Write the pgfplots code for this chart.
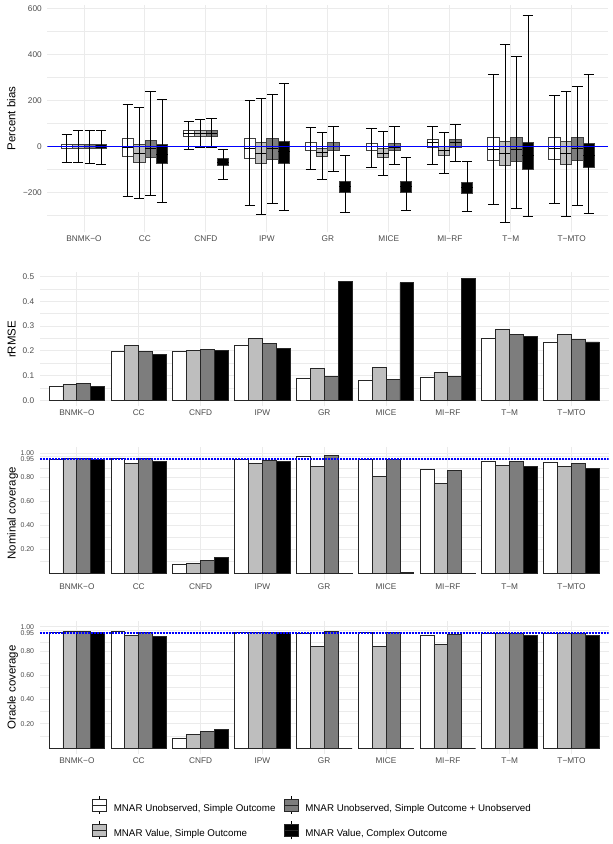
\documentclass[border=0pt]{standalone}
\usepackage{pgfplots}
\pgfplotsset{compat=1.18}
\usepgfplotslibrary{statistics}
\usepackage{fontspec}
\setmainfont{Liberation Sans}

\definecolor{fL}{gray}{0.745}
\definecolor{fD}{gray}{0.49}
\definecolor{gridc}{gray}{0.92}
\definecolor{tickc}{gray}{0.30}

% one box: style, position, lower whisker, lower quartile, median, upper quartile, upper whisker
\newcommand{\bx}[7]{\addplot[#1, boxplot prepared={draw position=#2, lower whisker=#3,
  lower quartile=#4, median=#5, upper quartile=#6, upper whisker=#7}] coordinates {};}

% legend glyph
\newcommand{\bxkey}[1]{%
  \draw[line width=0.8bp, black] (7bp,-5.5bp) -- (7bp,12.5bp);
  \draw[fill=#1, draw=black!85, line width=0.8bp] (0bp,-2.5bp) rectangle (14bp,9.5bp);
  \draw[line width=0.8bp, black!85] (0bp,3.5bp) -- (14bp,3.5bp);}

\pgfplotsset{
  panel/.style={
    scale only axis, anchor=south west,
    xmin=0.4, xmax=9.6, xtick={1,...,9},
    xticklabels={BNMK−O,CC,CNFD,IPW,GR,MICE,MI−RF,T−M,T−MTO},
    axis line style={draw=none}, tick style={draw=none},
    xmajorgrids, ymajorgrids, yminorgrids,
    major grid style={draw=gridc, line width=0.9bp},
    minor grid style={draw=gridc, line width=0.45bp},
    ticklabel style={font=\fontsize{8.3}{9}\selectfont, text=tickc},
    xticklabel style={anchor=north, inner sep=0pt, yshift=-3.5bp},
    yticklabel style={anchor=east, inner sep=0pt, xshift=-5.5bp},
    label style={font=\fontsize{11.5}{13}\selectfont},
  },
  lower/.style={panel, width=568.8bp,
    ylabel style={at={(axis description cs:-0.0427,0.5)}, anchor=base}},
  cover/.style={lower,
    ymin=-0.05, ymax=1.05, ytick={0.2,0.4,0.6,0.8,0.95,1},
    yticklabels={0.20,0.40,0.60,0.80,0.95,1.00},
    minor ytick={0.1,0.3,0.5,0.7,0.875,0.975},
    yticklabel style={font=\fontsize{7}{7.5}\selectfont}},
  bxbase/.style={draw=black, line width=0.8bp,
    boxplot/box extend=0.1875, boxplot/whisker extend=0.17},
  bxW/.style={bxbase, boxplot/every box/.style={fill=white, draw=black!75}},
  bxL/.style={bxbase, boxplot/every box/.style={fill=fL, draw=black!75}},
  bxD/.style={bxbase, boxplot/every box/.style={fill=fD, draw=black!75}},
  bxK/.style={bxbase, boxplot/every box/.style={fill=black, draw=black!75}},
  brbase/.style={ybar, bar width=0.225, draw=black!85, line width=0.8bp},
  brW/.style={brbase, fill=white, bar shift=-0.3375},
  brL/.style={brbase, fill=fL, bar shift=-0.1125},
  brD/.style={brbase, fill=fD, bar shift=0.1125},
  brK/.style={brbase, fill=black, bar shift=0.3375},
  refline/.style={blue, line width=1.8bp, dash pattern=on 2bp off 1bp},
}

\begin{document}
\begin{tikzpicture}
\useasboundingbox (0,0) rectangle (613bp,844bp);

% ---- Percent bias
\begin{axis}[panel, width=560.9bp, at={(47.4bp,611.7bp)}, height=227.2bp,
  ylabel style={at={(axis description cs:-0.0569,0.5)}, anchor=base},
  ymin=-374, ymax=614, ytick={-200,0,200,400,600},
  yticklabels={−200,0,200,400,600}, minor ytick={-300,-100,100,300,500},
  ylabel={Percent bias},
  boxplot/draw direction=y,
  boxplot/draw/lower whisker/.code={},
  boxplot/draw/upper whisker/.code={},
  boxplot/draw/median/.code={%
    \draw[black, line width=0.8bp]
      (boxplot box cs:\pgfplotsboxplotvalue{median},0) --
      (boxplot box cs:\pgfplotsboxplotvalue{median},1);
    \draw[black, line width=0.8bp]
      (boxplot cs:\pgfplotsboxplotvalue{lower whisker}) --
      (boxplot cs:\pgfplotsboxplotvalue{upper whisker})
      (boxplot whisker cs:\pgfplotsboxplotvalue{lower whisker},0) --
      (boxplot whisker cs:\pgfplotsboxplotvalue{lower whisker},1)
      (boxplot whisker cs:\pgfplotsboxplotvalue{upper whisker},0) --
      (boxplot whisker cs:\pgfplotsboxplotvalue{upper whisker},1);
  },
]
% BNMK-O
\bx{bxW}{0.71875}{-72}{-10}{0}{10}{51}
\bx{bxL}{0.90625}{-70}{-8}{1}{10}{70}
\bx{bxD}{1.09375}{-75}{-9}{0}{10}{71}
\bx{bxK}{1.28125}{-77}{-10}{0}{10}{67}
% CC
\bx{bxW}{1.71875}{-220}{-46}{-6}{33}{180}
\bx{bxL}{1.90625}{-226}{-71}{-32}{9}{171}
\bx{bxD}{2.09375}{-212}{-49}{-10}{27}{240}
\bx{bxK}{2.28125}{-243}{-74}{-35}{10}{206}
% CNFD
\bx{bxW}{2.71875}{-14}{45}{58}{71}{110}
\bx{bxL}{2.90625}{-7}{45}{58}{71}{119}
\bx{bxD}{3.09375}{-7}{45}{58}{71}{123}
\bx{bxK}{3.28125}{-145}{-85}{-70}{-54}{-14}
% IPW
\bx{bxW}{3.71875}{-259}{-52}{-9}{35}{200}
\bx{bxL}{3.90625}{-296}{-75}{-30}{16}{209}
\bx{bxD}{4.09375}{-248}{-55}{-10}{35}{225}
\bx{bxK}{4.28125}{-277}{-74}{-23}{20}{274}
% GR
\bx{bxW}{4.71875}{-101}{-19}{0}{16}{81}
\bx{bxL}{4.90625}{-142}{-45}{-26}{-9}{62}
\bx{bxD}{5.09375}{-110}{-20}{0}{16}{87}
\bx{bxK}{5.28125}{-288}{-200}{-175}{-151}{-41}
% MICE
\bx{bxW}{5.71875}{-93}{-19}{-1}{13}{78}
\bx{bxL}{5.90625}{-128}{-48}{-30}{-9}{65}
\bx{bxD}{6.09375}{-80}{-20}{-3}{13}{85}
\bx{bxK}{6.28125}{-278}{-199}{-175}{-151}{-49}
% MI-RF
\bx{bxW}{6.71875}{-77}{-3}{16}{30}{88}
\bx{bxL}{6.90625}{-119}{-39}{-19}{-1}{62}
\bx{bxD}{7.09375}{-65}{-6}{16}{30}{94}
\bx{bxK}{7.28125}{-283}{-203}{-180}{-158}{-65}
% T-M
\bx{bxW}{7.71875}{-252}{-62}{-12}{38}{312}
\bx{bxL}{7.90625}{-329}{-85}{-32}{22}{443}
\bx{bxD}{8.09375}{-271}{-67}{-12}{39}{393}
\bx{bxK}{8.28125}{-307}{-99}{-41}{16}{569}
% T-MTO
\bx{bxW}{8.71875}{-249}{-57}{-10}{38}{220}
\bx{bxL}{8.90625}{-304}{-77}{-30}{20}{239}
\bx{bxD}{9.09375}{-258}{-61}{-10}{39}{261}
\bx{bxK}{9.28125}{-290}{-90}{-39}{12}{314}
\addplot[blue, line width=1.2bp] coordinates {(0.4,0) (9.6,0)};
\end{axis}

% ---- rRMSE
\begin{axis}[lower, at={(39.8bp,437.6bp)}, height=133.9bp,
  ymin=-0.0246, ymax=0.5166, ytick={0,0.1,0.2,0.3,0.4,0.5},
  yticklabels={0.0,0.1,0.2,0.3,0.4,0.5},
  minor ytick={0.05,0.15,0.25,0.35,0.45}, ylabel={rRMSE}]
\addplot[brW] coordinates {(1,0.058) (2,0.198) (3,0.198) (4,0.220) (5,0.088) (6,0.080) (7,0.092) (8,0.249) (9,0.236)};
\addplot[brL] coordinates {(1,0.063) (2,0.220) (3,0.202) (4,0.249) (5,0.127) (6,0.132) (7,0.113) (8,0.286) (9,0.265)};
\addplot[brD] coordinates {(1,0.069) (2,0.198) (3,0.205) (4,0.230) (5,0.097) (6,0.086) (7,0.097) (8,0.265) (9,0.247)};
\addplot[brK] coordinates {(1,0.055) (2,0.185) (3,0.201) (4,0.210) (5,0.480) (6,0.476) (7,0.492) (8,0.257) (9,0.236)};
\end{axis}

% ---- Nominal coverage
\begin{axis}[cover, at={(39.8bp,264.3bp)}, height=132.6bp,
  ylabel={Nominal coverage}]
\addplot[brW] coordinates {(1,0.952) (2,0.955) (3,0.080) (4,0.947) (5,0.972) (6,0.950) (7,0.861) (8,0.933) (9,0.925)};
\addplot[brL] coordinates {(1,0.953) (2,0.917) (3,0.086) (4,0.917) (5,0.886) (6,0.808) (7,0.750) (8,0.900) (9,0.892)};
\addplot[brD] coordinates {(1,0.955) (2,0.953) (3,0.111) (4,0.942) (5,0.980) (6,0.950) (7,0.858) (8,0.933) (9,0.917)};
\addplot[brK] coordinates {(1,0.950) (2,0.928) (3,0.133) (4,0.931) (5,0.003) (6,0.008) (7,0.001) (8,0.889) (9,0.875)};
\addplot[refline] coordinates {(0.4,0.95) (9.6,0.95)};
\end{axis}

% ---- Oracle coverage
\begin{axis}[cover, at={(39.8bp,89.9bp)}, height=133.4bp,
  ylabel={Oracle coverage},
  legend columns=2, transpose legend, legend cell align=left,
  legend style={at={(axis description cs:0.0918,-0.311)}, anchor=north west,
    draw=none, fill=none, inner sep=0pt, outer sep=0pt,
    font=\fontsize{9.8}{11}\selectfont, nodes={inner sep=0pt},
    column sep=7bp, row sep=6.7bp,
    /tikz/every even column/.append style={column sep=8bp}}]
\addlegendimage{legend image code/.code={\bxkey{white}}}
\addlegendimage{legend image code/.code={\bxkey{fL}}}
\addlegendimage{legend image code/.code={\bxkey{fD}}}
\addlegendimage{legend image code/.code={\bxkey{black}}}
\addplot[brW] coordinates {(1,0.953) (2,0.958) (3,0.077) (4,0.950) (5,0.942) (6,0.950) (7,0.926) (8,0.942) (9,0.942)};
\addplot[brL] coordinates {(1,0.961) (2,0.928) (3,0.113) (4,0.950) (5,0.840) (6,0.835) (7,0.854) (8,0.942) (9,0.942)};
\addplot[brD] coordinates {(1,0.961) (2,0.950) (3,0.140) (4,0.950) (5,0.961) (6,0.950) (7,0.934) (8,0.942) (9,0.942)};
\addplot[brK] coordinates {(1,0.953) (2,0.923) (3,0.151) (4,0.950) (5,0) (6,0) (7,0) (8,0.930) (9,0.930)};
\addplot[refline] coordinates {(0.4,0.95) (9.6,0.95)};
\legend{{MNAR Unobserved, Simple Outcome},{MNAR Value, Simple Outcome},
  {MNAR Unobserved, Simple Outcome + Unobserved},{MNAR Value, Complex Outcome}}
\end{axis}
\end{tikzpicture}
\end{document}
